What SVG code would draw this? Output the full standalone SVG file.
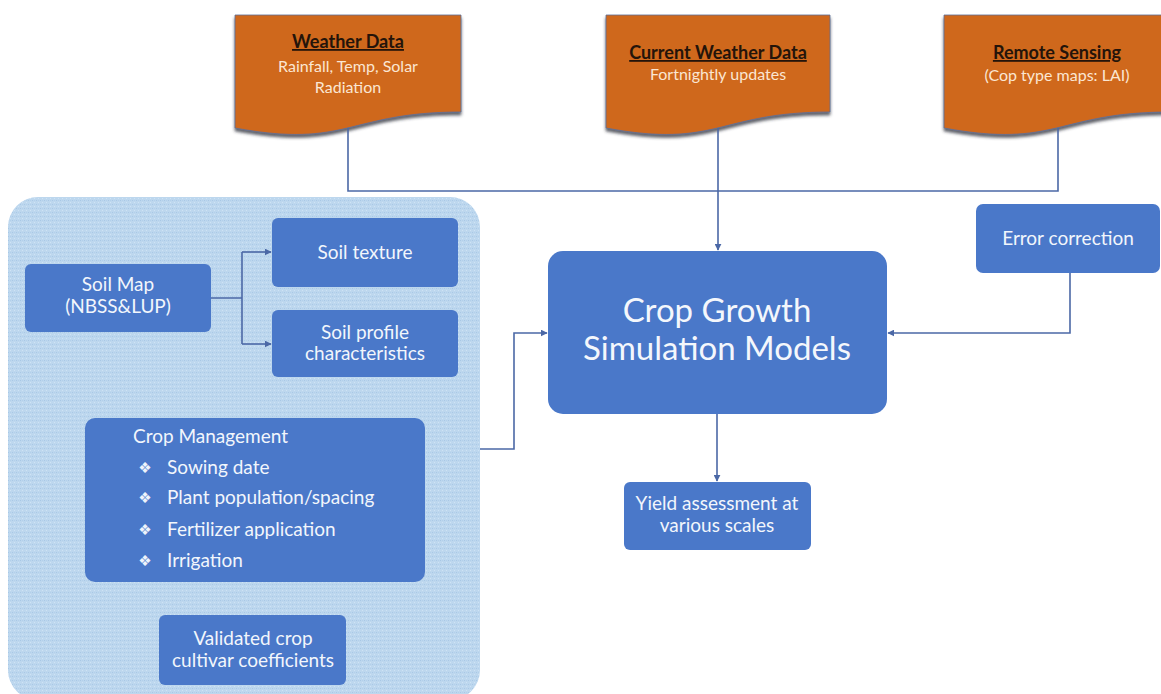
<svg xmlns="http://www.w3.org/2000/svg" width="1161" height="694" viewBox="0 0 1161 694">
  <defs>
    <style>
      .doc { fill: #cf671e; stroke: #5d6f98; stroke-width: 0.8; filter: url(#docShadow); }
      .box { fill: #4a78c9; }
      .ttl { font-family: Lato, "Liberation Sans", sans-serif; font-size: 18px; font-weight: bold; fill: #24140a; text-anchor: middle; text-decoration: underline; }
      .sub { font-family: Lato, "Liberation Sans", sans-serif; font-size: 16px; fill: #fbe6d2; text-anchor: middle; }
      .lbl { font-family: Lato, "Liberation Sans", sans-serif; font-size: 19px; fill: #f2f6fc; text-anchor: middle; }
      .lft { font-family: Lato, "Liberation Sans", sans-serif; font-size: 19px; fill: #f2f6fc; }
      .big { font-family: Lato, "Liberation Sans", sans-serif; font-size: 33px; fill: #f4f7fc; text-anchor: middle; }
      .bul { font-family: "DejaVu Sans", sans-serif; font-size: 15px; fill: #eef3fb; text-anchor: middle; }
      .wire { fill: none; stroke: #4b68a6; stroke-width: 1.6; }
    </style>
    <marker id="arrow" viewBox="0 0 10 10" refX="9" refY="5" markerWidth="7" markerHeight="7" markerUnits="userSpaceOnUse" orient="auto">
      <path d="M0,0 L10,5 L0,10 Z" fill="#4b68a6"/>
    </marker>
    <filter id="docShadow" x="-5%" y="-5%" width="110%" height="125%">
      <feOffset in="SourceAlpha" dx="0" dy="3" result="off"/>
      <feGaussianBlur in="off" stdDeviation="1.6" result="blur"/>
      <feFlood flood-color="#2c2f3a" flood-opacity="0.75"/>
      <feComposite in2="blur" operator="in" result="shadow"/>
      <feMerge>
        <feMergeNode in="shadow"/>
        <feMergeNode in="SourceGraphic"/>
      </feMerge>
    </filter>
    <pattern id="grain" width="4" height="4" patternUnits="userSpaceOnUse">
      <rect width="4" height="4" fill="#bdd7ee"/>
      <rect x="0" y="0" width="1" height="1" fill="#a9c8e6"/>
      <rect x="2" y="2" width="1" height="1" fill="#cfe3f5"/>
      <rect x="2" y="0" width="1" height="1" fill="#b3d0eb"/>
    </pattern>
  </defs>

  <rect width="1161" height="694" fill="#ffffff"/>

  <!-- data sources -->
  <g id="weather-data">
    <path class="doc" d="M235,15 H461 V112 C348,112 348,149 235,128 Z"/>
    <text class="ttl" x="348" y="48">Weather Data</text>
    <text class="sub" x="348" y="72">Rainfall, Temp, Solar</text>
    <text class="sub" x="348" y="93">Radiation</text>
  </g>
  <g id="current-weather-data">
    <path class="doc" d="M606,15 H830 V112 C718,112 718,149 606,128 Z"/>
    <text class="ttl" x="718" y="59">Current Weather Data</text>
    <text class="sub" x="718" y="80">Fortnightly updates</text>
  </g>
  <g id="remote-sensing">
    <path class="doc" d="M944,15 H1170 V112 C1057,112 1057,149 944,128 Z"/>
    <text class="ttl" x="1057" y="59">Remote Sensing</text>
    <text class="sub" x="1057" y="81">(Cop type maps: LAI)</text>
  </g>

  <!-- input panel -->
  <g id="input-panel">
    <rect x="8" y="197" width="472" height="503" rx="30" fill="url(#grain)"/>
  </g>
  <g id="soil-map">
    <rect class="box" x="25" y="264" width="186" height="68" rx="6"/>
    <text class="lbl" x="118" y="291">Soil Map</text>
    <text class="lbl" x="118" y="313">(NBSS&amp;LUP)</text>
  </g>
  <g id="soil-texture">
    <rect class="box" x="272" y="218" width="186" height="69" rx="6"/>
    <text class="lbl" x="365" y="259">Soil texture</text>
  </g>
  <g id="soil-profile">
    <rect class="box" x="272" y="310" width="186" height="67" rx="6"/>
    <text class="lbl" x="365" y="339">Soil profile</text>
    <text class="lbl" x="365" y="360">characteristics</text>
  </g>
  <g id="crop-management">
    <rect class="box" x="85" y="418" width="340" height="164" rx="10"/>
    <text class="lft" x="133" y="443">Crop Management</text>
    <text class="bul" x="145" y="473">❖</text>
    <text class="lft" x="167" y="474">Sowing date</text>
    <text class="bul" x="145" y="503">❖</text>
    <text class="lft" x="167" y="504">Plant population/spacing</text>
    <text class="bul" x="145" y="535">❖</text>
    <text class="lft" x="167" y="536">Fertilizer application</text>
    <text class="bul" x="145" y="566">❖</text>
    <text class="lft" x="167" y="567">Irrigation</text>
  </g>
  <g id="cultivar-coefficients">
    <rect class="box" x="159" y="615" width="187" height="70" rx="6"/>
    <text class="lbl" x="253" y="645">Validated crop</text>
    <text class="lbl" x="253" y="667">cultivar coefficients</text>
  </g>

  <!-- model and outputs -->
  <g id="crop-growth-models">
    <rect class="box" x="548" y="251" width="339" height="163" rx="15"/>
    <text class="big" x="717" y="322">Crop Growth</text>
    <text class="big" x="717" y="360">Simulation Models</text>
  </g>
  <g id="error-correction">
    <rect class="box" x="976" y="204" width="184" height="69" rx="7"/>
    <text class="lbl" x="1068" y="245">Error correction</text>
  </g>
  <g id="yield-assessment">
    <rect class="box" x="624" y="482" width="187" height="68" rx="6"/>
    <text class="lbl" x="717" y="510">Yield assessment at</text>
    <text class="lbl" x="717" y="532">various scales</text>
  </g>

  <!-- connectors -->
  <g id="connectors">
    <path class="wire" d="M348,128 V191 H1058 V128"/>
    <path class="wire" d="M718,128 V250" marker-end="url(#arrow)"/>
    <path class="wire" d="M211,298 H242 M242,252 V344"/>
    <path class="wire" d="M242,252 H271" marker-end="url(#arrow)"/>
    <path class="wire" d="M242,344 H271" marker-end="url(#arrow)"/>
    <path class="wire" d="M480,449 H514 V333 H547" marker-end="url(#arrow)"/>
    <path class="wire" d="M1070,273 V333 H888" marker-end="url(#arrow)"/>
    <path class="wire" d="M717,414 V481" marker-end="url(#arrow)"/>
  </g>
</svg>
